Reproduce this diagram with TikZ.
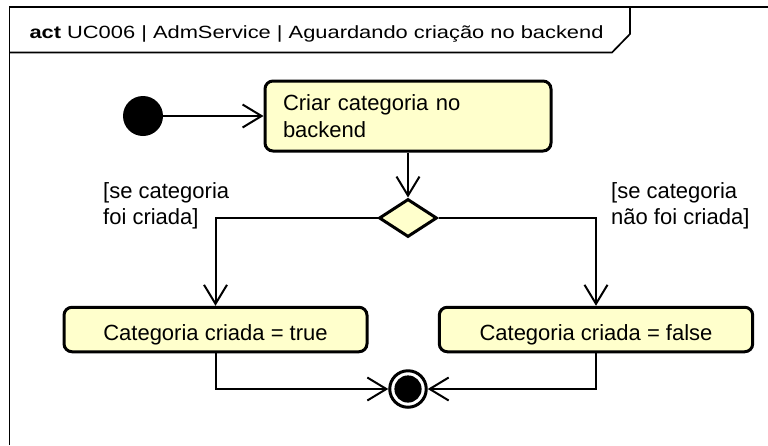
\documentclass[tikz,border=0pt]{standalone}
\usepackage{fontspec}
\usepackage{graphicx}
\setmainfont{Liberation Sans}
\usetikzlibrary{arrows.meta,shapes.geometric}
\definecolor{actfill}{RGB}{255,255,204}
\tikzset{
  frameline/.style={line width=1.7pt, draw=black},
  actbox/.style={draw=black, fill=actfill, line width=3pt, rounded corners=8pt, inner sep=0pt,
    font=\fontsize{22}{27}\selectfont},
  decbox/.style={draw=black, fill=actfill, line width=3pt, diamond, inner sep=0pt,
    minimum width=58pt, minimum height=38pt},
  flow/.style={line width=2pt, -{Straight Barb[length=19pt,width=23pt,line width=2pt]}},
  guard/.style={anchor=base west, inner sep=0pt, align=left, font=\fontsize{22}{26}\selectfont},
}
\begin{document}
\begin{tikzpicture}[x=1pt,y=-1pt]
\useasboundingbox (0,0) rectangle (768,445);
% frame
\draw[frameline] (9.5,445) -- (9.5,7) -- (768,7);
\draw[frameline] (9.5,52.5) -- (612,52.5) -- (630,34) -- (630,7);
\node[anchor=base west, inner sep=0pt] (title) at (29.3,38.3)
  {\resizebox{574pt}{\height}{\fontsize{17.7}{20}\selectfont\textbf{act} UC006 | AdmService | Aguardando criação no backend}};
% nodes
\node[circle, fill=black, minimum size=40pt, inner sep=0pt] (init) at (143,116) {};
\node[actbox, text width=250pt, align=left, inner xsep=18pt, minimum height=70pt] (criar) at (408,116)
  {Criar categoria no\\backend};
\node[decbox] (dec) at (408,218) {};
\node[actbox, minimum width=303pt, minimum height=44.5pt, text height=22pt, text depth=0pt] (ltrue) at (215.5,329.5)
  {Categoria criada = true};
\node[actbox, minimum width=313.4pt, minimum height=44.5pt, text height=22pt, text depth=0pt] (rfalse) at (596,329.5)
  {Categoria criada = false};
\node[circle, draw=black, line width=3pt, minimum size=36.5pt, inner sep=0pt, fill=white,
  path picture={\fill[black] (path picture bounding box.center) circle (13.6pt);}] (fin) at (408,389) {};
% guards (base anchor = baseline of the last line)
\node[guard] (gl) at (103,224) {[se categoria\\foi criada]};
\node[guard] (gr) at (611,224) {[se categoria\\não foi criada]};
% connectors
\draw[flow] (init) -- (criar.west |- init);
\draw[flow] (criar.south) -- (dec.north);
\draw[flow] (dec.west) -| (ltrue.north);
\draw[flow] (dec.east) -| (rfalse.north);
\draw[flow] (ltrue.south) |- (fin.west);
\draw[flow] (rfalse.south) |- (fin.east);
\end{tikzpicture}
\end{document}
